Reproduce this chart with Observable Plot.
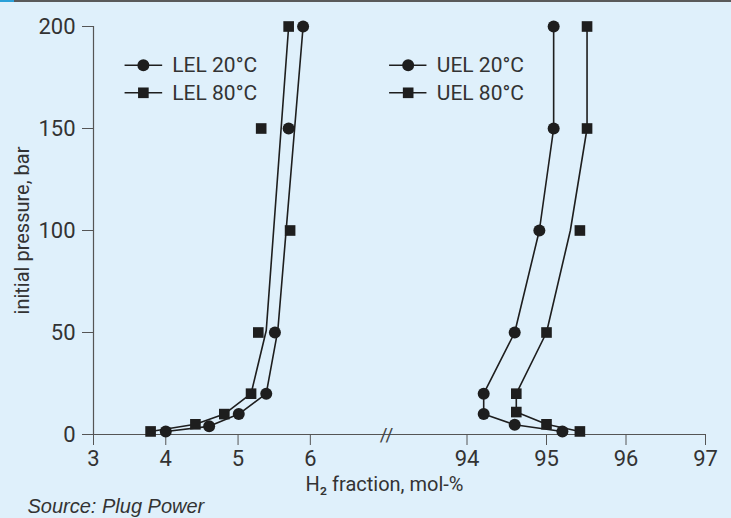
<!DOCTYPE html>
<html><head><meta charset="utf-8">
<script src="https://cdn.jsdelivr.net/npm/d3@7"></script>
<script src="https://cdn.jsdelivr.net/npm/@observablehq/plot@0.6"></script>
<style>
html,body{margin:0;padding:0;background:#dff0fb;}
#wrap{position:relative;width:731px;height:518px;overflow:hidden;}
#topline{position:absolute;left:0;top:0;width:731px;height:2px;background:linear-gradient(to right,#2aa0d8 0,#2aa0d8 14px,#5a5a5a 14px);}
</style></head><body><div id="wrap"><div id="topline"></div></div>
<script>
// ---- data ----
const xTicks = [3, 4, 5, 6, 94, 95, 96, 97];
const yTicks = [0, 50, 100, 150, 200];

// markers
const lel20X = [5.90, 5.70, 5.51, 5.39, 5.01, 4.60, 4.00];
const lel20Y = [200, 150, 50, 20, 10, 4, 1.5];
const lel80X = [5.70, 5.32, 5.72, 5.28, 5.18, 4.81, 4.41, 3.79];
const lel80Y = [200, 150, 100, 50, 20, 10, 5, 1.5];
const uel20X = [95.09, 95.09, 94.91, 94.60, 94.21, 94.21, 94.60, 95.20];
const uel20Y = [200, 150, 100, 50, 20, 10, 4.75, 1.5];
const uel80X = [95.51, 95.51, 95.42, 95.00, 94.62, 94.62, 95.00, 95.42];
const uel80Y = [200, 150, 100, 50, 20, 11, 5, 1.5];

// fitted curves (drawn lines)
const lel20LineX = [4.00, 4.60, 5.01, 5.39, 5.55, 5.90];
const lel20LineY = [1.5, 4, 10, 20, 51, 200];
const lel80LineX = [3.79, 4.41, 4.81, 5.18, 5.39, 5.70];
const lel80LineY = [1.5, 5, 10, 20, 51, 200];
const uel20LineX = [95.09, 95.09, 94.91, 94.60, 94.21, 94.21, 94.60, 95.20];
const uel20LineY = [200, 150, 100, 50, 20, 10, 4.75, 1.5];
const uel80LineX = [95.51, 95.51, 95.30, 95.00, 94.62, 94.62, 95.00, 95.42];
const uel80LineY = [200, 150, 100, 50, 20, 11, 5, 1.5];

const seriesNames = ["LEL 20°C", "LEL 80°C", "UEL 20°C", "UEL 80°C"];
const seriesSymbols = ["circle", "square", "circle", "square"];

// ---- build tables ----
const zip = (xs, ys, s) => xs.map((x, i) => ({x, y: ys[i], s}));
const markers = [
  ...zip(lel20X, lel20Y, seriesNames[0]),
  ...zip(lel80X, lel80Y, seriesNames[1]),
  ...zip(uel20X, uel20Y, seriesNames[2]),
  ...zip(uel80X, uel80Y, seriesNames[3])
];
const lines = [
  ...zip(lel20LineX, lel20LineY, seriesNames[0]),
  ...zip(lel80LineX, lel80LineY, seriesNames[1]),
  ...zip(uel20LineX, uel20LineY, seriesNames[2]),
  ...zip(uel80LineX, uel80LineY, seriesNames[3])
];
const symOf = s => seriesSymbols[seriesNames.indexOf(s)];

// legend placed in data space
const legend = [
  {s: seriesNames[0], x: 3.69, x1: 3.43, x2: 3.95, tx: 4.09, y: 181},
  {s: seriesNames[1], x: 3.69, x1: 3.43, x2: 3.95, tx: 4.09, y: 167.5},
  {s: seriesNames[2], x: 93.26, x1: 93.02, x2: 93.49, tx: 93.62, y: 181},
  {s: seriesNames[3], x: 93.26, x1: 93.02, x2: 93.49, tx: 93.62, y: 167.5}
];

const ink = "#1e1e1e";
const font = "Roboto, 'Liberation Sans', sans-serif";

const chart = Plot.plot({
  width: 731,
  height: 518,
  marginLeft: 93,
  marginRight: 26,
  marginTop: 26,
  marginBottom: 84,
  style: {background: "transparent", fontFamily: font, fontSize: "22px", color: "#333", overflow: "visible"},
  x: {type: "linear", domain: [3, 7.04, 93, 97], range: [93, 385, 387, 705]},
  y: {domain: [0, 200]},
  symbol: {domain: seriesNames, range: seriesSymbols},
  marks: [
    Plot.ruleX([3], {stroke: "#555", strokeWidth: 1.2}),
    Plot.ruleY([0], {stroke: "#555", strokeWidth: 1.2}),
    Plot.axisX({ticks: xTicks, tickSize: 11, tickPadding: 5, label: null, stroke: "#555", fill: "#333", fontSize: 22}),
    Plot.axisY({ticks: yTicks, tickSize: 11, tickPadding: 7, label: null, stroke: "#555", fill: "#333", fontSize: 22}),
    Plot.text(["//"], {x: 50, y: 0, text: d => d, fontSize: 19, fill: "#444", fontFamily: font}),
    Plot.line(lines, {x: "x", y: "y", z: "s", stroke: ink, strokeWidth: 1.6}),
    Plot.dot(markers, {x: "x", y: "y", symbol: d => symOf(d.s), r: 6, fill: ink, stroke: "none"}),
    // legend
    Plot.link(legend, {x1: "x1", x2: "x2", y1: "y", y2: "y", stroke: ink, strokeWidth: 1.6}),
    Plot.dot(legend, {x: "x", y: "y", symbol: d => symOf(d.s), r: 6, fill: ink, stroke: "none"}),
    Plot.text(legend, {x: "tx", y: "y", text: "s", textAnchor: "start", fontSize: 21, fill: "#333"}),
    // axis titles
    Plot.text(["initial pressure, bar"], {frameAnchor: "left", text: d => d, textAnchor: "middle", rotate: -90, dx: -71, fontSize: 20, fill: "#333"}),
    Plot.text(["H₂ fraction, mol-%"], {frameAnchor: "bottom", text: d => d, textAnchor: "middle", lineAnchor: "middle", dx: -15, dy: 50, fontSize: 20, fill: "#333"}),
    Plot.text(["Source: Plug Power"], {frameAnchor: "bottom-left", text: d => d, textAnchor: "start", lineAnchor: "middle", dx: -66, dy: 72, fontSize: 20, fontStyle: "italic", fill: "#333", fontFamily: "'Liberation Sans', Arial, sans-serif"})
  ]
});
document.getElementById("wrap").appendChild(chart);
</script>
</body></html>
